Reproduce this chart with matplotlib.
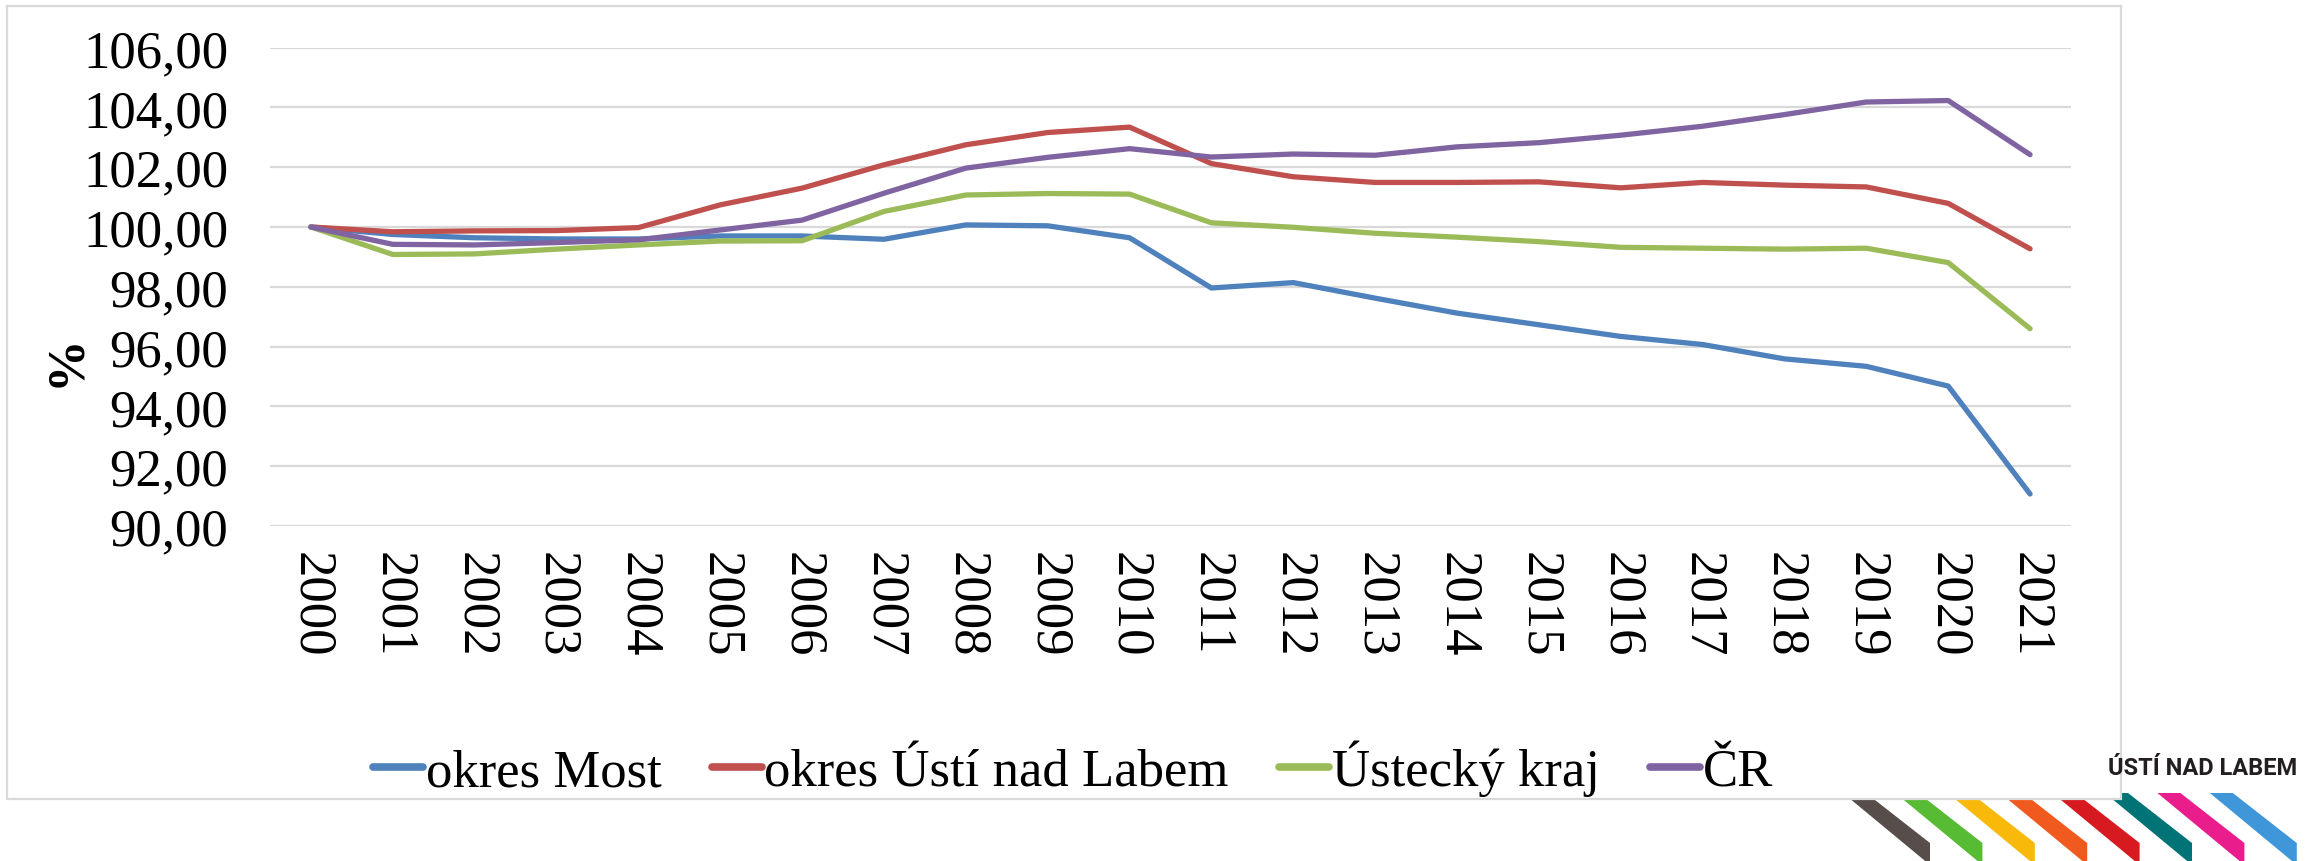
import matplotlib
matplotlib.use("Agg")
import matplotlib.pyplot as plt
from matplotlib.patches import Polygon, Rectangle
from matplotlib.ticker import FuncFormatter

years = [str(y) for y in range(2000, 2022)]
most = [100.00, 99.75, 99.64, 99.60, 99.60, 99.70, 99.70, 99.59, 100.07, 100.04, 99.64,
        97.96, 98.14, 97.62, 97.12, 96.73, 96.34, 96.07, 95.59, 95.34, 94.68, 91.07]
usti = [100.00, 99.84, 99.87, 99.88, 99.98, 100.74, 101.30, 102.08, 102.75, 103.16, 103.34,
        102.12, 101.68, 101.49, 101.49, 101.51, 101.31, 101.49, 101.40, 101.34, 100.79, 99.27]
kraj = [100.00, 99.08, 99.10, 99.26, 99.40, 99.53, 99.54, 100.52, 101.07, 101.12, 101.10,
        100.14, 99.99, 99.79, 99.66, 99.51, 99.32, 99.29, 99.26, 99.29, 98.81, 96.60]
cr = [100.00, 99.42, 99.40, 99.48, 99.57, 99.90, 100.23, 101.13, 101.97, 102.33, 102.62,
      102.34, 102.44, 102.40, 102.68, 102.82, 103.07, 103.37, 103.76, 104.18, 104.23, 102.42]
series_names = ["okres Most", "okres Ústí nad Labem", "Ústecký kraj", "ČR"]
series_values = [most, usti, kraj, cr]
series_colors = ["#4f81bd", "#c0504d", "#9bbb59", "#8064a2"]
y_ticks = [90, 92, 94, 96, 98, 100, 102, 104, 106]

W, H = 2309, 862
fig = plt.figure(figsize=(W / 100, H / 100), dpi=100)
serif = ["Liberation Serif", "DejaVu Serif"]
FS = 38

# background decoration axes in pixel coordinates
bg = fig.add_axes([0, 0, 1, 1], zorder=0)
bg.set_xlim(0, W)
bg.set_ylim(H, 0)
bg.axis("off")
stripe_colors = ["#574d4a", "#57bb34", "#f9b90b", "#f05a1e", "#d71920", "#007377", "#e91e8c", "#3f97d9"]
for i, c in enumerate(stripe_colors):
    A = 1843 + i * 52.4
    bg.add_patch(Polygon([(A, 794), (A + 23, 794), (A + 87, 844), (A + 87, 866)],
                         closed=True, facecolor=c, edgecolor="none", zorder=1))
bg.add_patch(Rectangle((7, 7), 2121 - 7, 800 - 7, facecolor="white", edgecolor="#d9d9d9",
                       linewidth=1.6, zorder=2))
bg.text(2297, 769, "ÚSTÍ NAD LABEM", ha="right", va="center", fontsize=17, fontweight="bold",
        color="#231f20", family=["Liberation Sans Narrow", "Roboto", "DejaVu Sans"], zorder=3)

ax = fig.add_axes([270 / W, 1 - 527 / H, (2071 - 270) / W, (527 - 48.6) / H], zorder=1)
ax.patch.set_alpha(0)
x = list(range(len(years)))
for name, vals, col in zip(series_names, series_values, series_colors):
    ax.plot(x, vals, color=col, linewidth=3.8, label=name, solid_capstyle="round",
            solid_joinstyle="round")

ax.set_xlim(-0.5, len(years) - 0.5)
ax.set_ylim(90, 106)
ax.set_yticks(y_ticks)
ax.yaxis.set_major_formatter(FuncFormatter(lambda v, p: f"{v:.2f}".replace(".", ",")))
ax.set_xticks(x)
ax.set_xticklabels(years, rotation=-90)
ax.grid(axis="y", color="#d9d9d9", linewidth=1.6)
ax.set_axisbelow(True)
for s in ax.spines.values():
    s.set_visible(False)
ax.tick_params(axis="both", length=0, labelsize=FS)
ax.tick_params(axis="y", pad=30)
ax.tick_params(axis="x", pad=18)
for lab in ax.get_xticklabels() + ax.get_yticklabels():
    lab.set_family(serif)

fig.text(66 / W, 1 - 361 / H, "%", rotation=90, ha="center", va="center", fontsize=FS,
         fontweight="bold", family=serif)

leg = fig.legend(loc="center", bbox_to_anchor=(1073 / W, 1 - 769 / H), ncol=4, frameon=False,
                 prop={"family": serif, "size": FS}, handlelength=0.95, handletextpad=0.05,
                 columnspacing=0.95, borderaxespad=0)
for l in leg.get_lines():
    l.set_linewidth(5.5)

fig.savefig("out.png", dpi=100)
